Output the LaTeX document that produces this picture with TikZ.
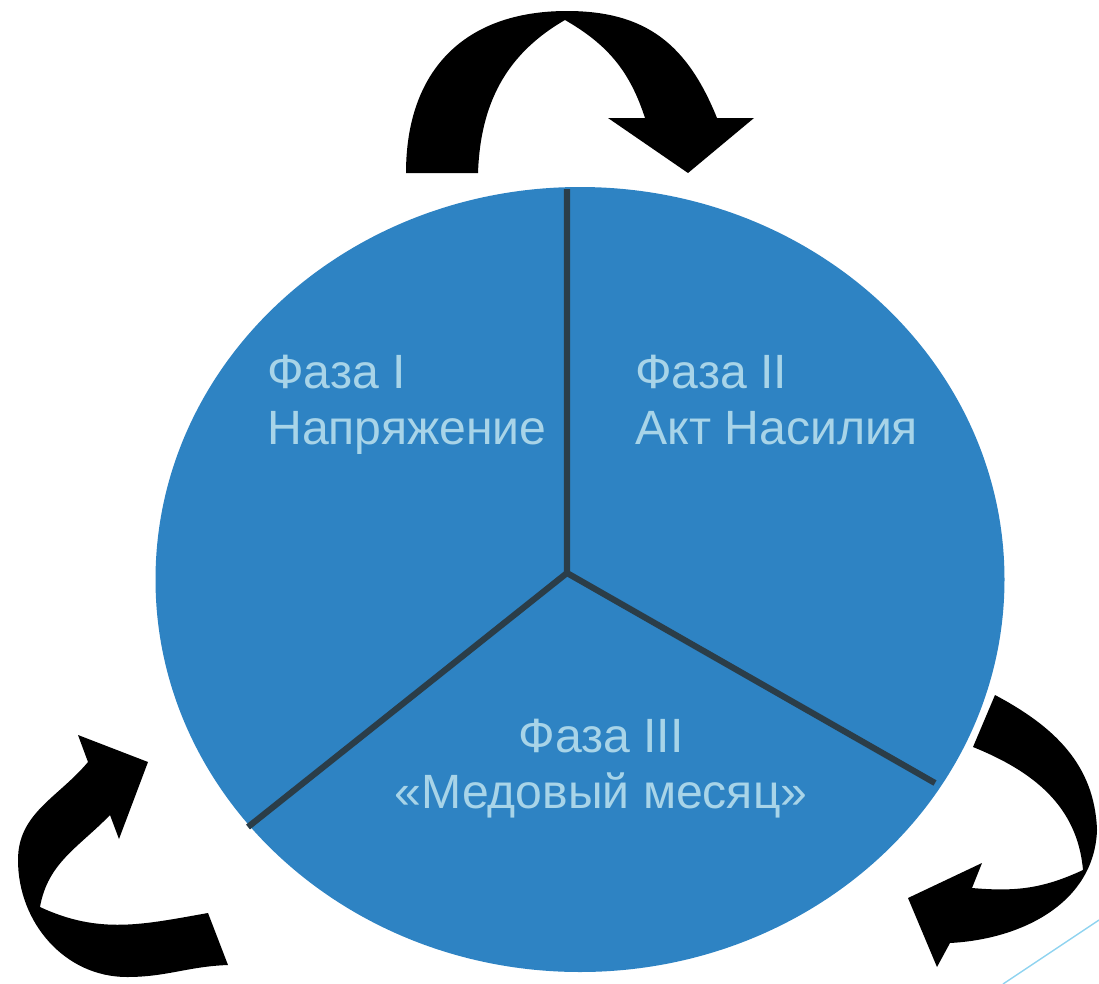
\documentclass[tikz,border=0pt]{standalone}
\usepackage{fontspec}
\setmainfont{Liberation Sans}
\definecolor{cycleblue}{HTML}{2E83C3}
\definecolor{phasetext}{HTML}{A8D4E8}
\definecolor{divider}{HTML}{2B3D48}
\definecolor{thinline}{HTML}{8ED3F0}
\tikzset{
  phase/.style={text=phasetext,inner sep=0pt,align=left,
    font=\fontsize{27.4}{31.7}\selectfont},
  cyclearrow/.style={fill=black}
}
\begin{document}
\begin{tikzpicture}[x=0.02cm,y=0.02cm]
    \useasboundingbox (0,0) rectangle (1099,-984);
    \fill[cycleblue] (580,-579.5) ellipse [x radius=424.5,y radius=392.5];
    \coordinate (hub) at (567,-573);
    \coordinate (top) at (567,-189);
    \coordinate (right) at (935,-783);
    \coordinate (left) at (248,-827);
    \draw[divider,line width=3.5pt] (top) -- (hub) -- (right);
    \draw[divider,line width=3.5pt] (hub) -- (left);
    \node[phase,anchor=base west] (tension) at (267,-444) {Фаза I\\Напряжение};
    \node[phase,anchor=base west] (violence) at (635,-444) {Фаза II\\Акт Насилия};
    \node[phase,anchor=base,align=center] (honeymoon) at (601,-808)
      {Фаза III\\«Медовый месяц»};
    % top arrow
    \fill[cyclearrow] (406,-173) to [out=90,in=180,looseness=1.15] (567,-11)
    to [out=0,in=112,looseness=1.1] (717,-118)
    -- (754,-118) -- (688,-173) -- (608,-118) -- (645,-118)
    to [out=108,in=-30] (565,-20) to [out=210,in=88] (478,-173) -- cycle;
    % bottom left arrow
    \fill[cyclearrow] (88,-762) -- (78,-735) -- (148,-762) -- (119,-839) -- (110,-815)
    to [out=226,in=80] (40,-907) to [out=-25,in=190] (208,-913) -- (228,-965)
    to [out=182,in=0] (127,-977) to [out=180,in=-90] (18,-860)
    to [out=90,in=230] cycle;
    % bottom right arrow
    \fill[cyclearrow] (995,-695) to [out=-28,in=92] (1097,-830) to [out=-92,in=3] (950,-943)
    -- (937,-967) -- (908,-898) -- (982,-863) -- (972,-888)
    to [out=-5,in=205] (1083,-870) to [out=95,in=-22] (973,-747) -- cycle;
    \coordinate (edgelow) at (1003,-984);
    \coordinate (edgehigh) at (1099,-920);
    \draw[thinline,line width=0.8pt] (edgelow) -- (edgehigh);
  \end{tikzpicture}
\end{document}
